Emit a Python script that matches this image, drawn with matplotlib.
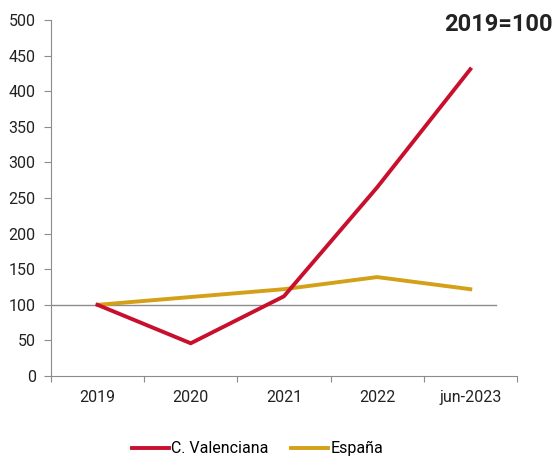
import matplotlib
matplotlib.use("Agg")
import matplotlib.pyplot as plt

plt.rcParams['font.family'] = ['Roboto', 'DejaVu Sans']

periods = ['2019', '2020', '2021', '2022', 'jun-2023']
valenciana = [100, 46, 112, 265, 431]
espana = [100, 111, 122, 139, 122]

fig = plt.figure(figsize=(5.54, 4.58), dpi=100)
ax = fig.add_axes([0.092, 0.179, 0.841, 0.777])

x = list(range(len(periods)))
ax.axhline(100, xmax=0.955, color='#8c8c8c', lw=1.0, zorder=1)
ax.plot(x, valenciana, color='#c8102e', lw=2.8, label='C. Valenciana', zorder=3)
ax.plot(x, espana, color='#d4a017', lw=2.8, label='España', zorder=2)

ax.set_xlim(-0.5, len(periods) - 0.5)
ax.set_ylim(0, 500)
ax.set_yticks(range(0, 501, 50))
# category boundaries get the tick marks, labels sit in between
ax.set_xticks([i - 0.5 for i in range(len(periods) + 1)])
ax.set_xticklabels([])
ax.set_xticks(x, minor=True)
ax.set_xticklabels(periods, minor=True)
ax.tick_params(axis='x', which='minor', length=0, pad=10, labelsize=11.5, colors='#222222')
ax.tick_params(axis='x', which='major', length=4, color='#8c8c8c', direction='out')
ax.tick_params(axis='y', length=5, pad=6, color='#8c8c8c', labelsize=11.5, labelcolor='#222222')

for s in ['top', 'right']:
    ax.spines[s].set_visible(False)
ax.spines['left'].set_color('#8c8c8c')
ax.spines['bottom'].set_color('#8c8c8c')

fig.text(0.998, 0.947, '2019=100', ha='right', va='center', fontsize=17,
         fontweight='bold', color='#222222')

fig.legend(loc='lower center', bbox_to_anchor=(0.465, -0.028), ncol=2, frameon=False,
           fontsize=11.5, handlelength=2.3, handletextpad=0.15, columnspacing=1.4)

fig.savefig('out.png', dpi=100)
